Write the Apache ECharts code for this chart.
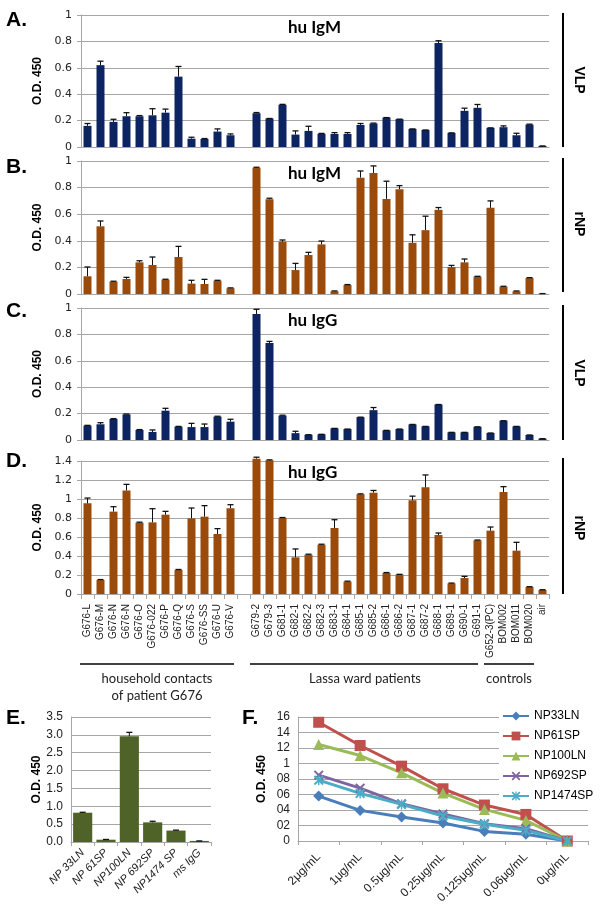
<!DOCTYPE html>
<html>
<head>
<meta charset="utf-8">
<script src="https://cdn.jsdelivr.net/npm/echarts@6/dist/echarts.min.js"></script>
<style>html,body{margin:0;padding:0;background:#fff}#c{width:600px;height:920px}</style>
</head>
<body>
<div id="c"></div>
<script>
// ---------- DATA ----------
const cats = ['G676-L','G676-M','G676-N','G676-N','G676-O','G676-022','G676-P','G676-Q','G676-S','G676-SS','G676-U','G676-V','',
  'G679-2','G679-3','G681-1','G682-1','G682-2','G682-3','G683-1','G684-1','G685-1','G685-2','G686-1','G686-2','G687-1','G687-2','G688-1','G689-1','G690-1','G691-1',
  'G652-3(PC)','BOM002','BOM011','BOM020','air'];

const igmVlp = [0.16,0.62,0.19,0.233,0.233,0.24,0.26,0.533,0.063,0.061,0.117,0.089,null,
  0.256,0.216,0.32,0.094,0.122,0.10,0.099,0.099,0.167,0.178,0.223,0.211,0.137,0.129,0.787,0.107,0.274,0.297,0.145,0.15,0.089,0.17,0.008];
const igmVlpErr = [0.018,0.03,0.02,0.027,0.005,0.05,0.027,0.077,0.011,0.003,0.02,0.01,null,
  0.005,0,0.003,0.028,0.035,0.003,0.01,0.01,0.011,0.003,0,0,0,0,0.018,0,0.02,0.025,0,0.01,0.015,0.003,0];

const igmNp = [0.133,0.509,0.093,0.113,0.238,0.218,0.108,0.278,0.078,0.075,0.1,0.043,null,
  0.95,0.712,0.393,0.18,0.293,0.373,0.02,0.068,0.875,0.91,0.715,0.788,0.385,0.48,0.633,0.203,0.238,0.13,0.648,0.055,0.02,0.12,0.003];
const igmNpErr = [0.07,0.04,0.003,0.012,0.012,0.06,0.003,0.08,0.025,0.035,0.003,0.003,null,
  0.003,0.008,0.013,0.05,0.02,0.025,0.003,0.003,0.05,0.053,0.133,0.027,0.06,0.105,0.017,0.012,0.025,0.003,0.052,0.003,0.003,0.003,0];

const iggVlp = [0.109,0.119,0.159,0.194,0.076,0.061,0.222,0.101,0.098,0.098,0.177,0.139,null,
  0.955,0.735,0.185,0.052,0.04,0.043,0.088,0.083,0.173,0.226,0.073,0.083,0.118,0.103,0.269,0.058,0.058,0.1,0.053,0.146,0.103,0.038,0.01];
const iggVlpErr = [0.002,0.012,0.003,0.003,0.003,0.015,0.018,0.002,0.028,0.023,0.003,0.018,null,
  0.035,0.012,0.003,0.014,0,0,0,0,0,0.02,0,0,0,0,0,0,0,0,0,0,0,0,0];

const iggNp = [0.954,0.147,0.867,1.09,0.751,0.754,0.835,0.253,0.796,0.814,0.632,0.902,null,
  1.425,1.407,0.8,0.386,0.414,0.519,0.695,0.13,1.049,1.067,0.221,0.204,0.986,1.123,0.621,0.112,0.168,0.565,0.667,1.074,0.456,0.074,0.042];
const iggNpErr = [0.056,0.005,0.052,0.064,0.005,0.144,0.035,0.005,0.109,0.116,0.056,0.038,null,
  0.015,0.005,0.005,0.088,0.005,0.005,0.087,0.005,0.005,0.023,0.005,0.003,0.044,0.13,0.021,0.003,0.018,0.003,0.038,0.056,0.088,0.003,0.003];

const eCats = ['NP 33LN','NP 61SP','NP100LN','NP 692SP','NP1474 SP','ms IgG'];
const eVals = [0.82,0.065,2.96,0.55,0.32,0.03];
const eErr  = [0.012,0.006,0.11,0.03,0.012,0];

const fCats = ['2μg/mL','1μg/mL','0.5μg/mL','0.25μg/mL','0.125μg/mL','0.06μg/mL','0μg/mL'];
const fNames = ['NP33LN','NP61SP','NP100LN','NP692SP','NP1474SP'];
const np33LN   = [0.58,0.395,0.31,0.232,0.124,0.086,0];
const np61SP   = [1.532,1.232,0.966,0.674,0.464,0.343,0];
const np100LN  = [1.245,1.103,0.88,0.618,0.408,0.266,0];
const np692SP  = [0.85,0.682,0.48,0.348,0.223,0.159,0];
const np1474SP = [0.785,0.614,0.472,0.322,0.215,0.137,0];

// ---------- STYLE ----------
const NAVY = '#0c2461', BROWN = '#9a4a0a', OLIVE = '#4f6228', GRID = '#a6a6a6';
const SANS = "'DejaVu Sans', sans-serif";
const ARIAL = "'Liberation Sans', Arial, sans-serif";
const NARROW = "'Liberation Sans Narrow', 'Arial Narrow', 'Liberation Sans', sans-serif";
const CAL = "Lato, 'Open Sans', sans-serif";

function errData(vals, errs){
  const out = [];
  vals.forEach((v,i)=>{ if(v!=null) out.push([i, v, errs[i]]); });
  return out;
}
function errRender(params, api){
  const x = api.value(0), v = api.value(1), e = api.value(2);
  const p0 = api.coord([x, v]), p1 = api.coord([x, v + e]);
  return {type:'group', children:[
    {type:'line', shape:{x1:p0[0],y1:p0[1],x2:p1[0],y2:p1[1]}, style:{stroke:'#111',lineWidth:1}},
    {type:'line', shape:{x1:p1[0]-3,y1:p1[1],x2:p1[0]+3,y2:p1[1]}, style:{stroke:'#111',lineWidth:1.3}}
  ]};
}

const grids = [
  {left:81, top:15,  width:468, height:132},
  {left:81, top:161, width:468, height:133},
  {left:81, top:308, width:468, height:132},
  {left:81, top:461, width:468, height:133},
  {left:71, top:717, width:140, height:125},
  {left:298, top:717, width:290, height:124}
];

const xAxes = [0,1,2,3].map(i=>({
  type:'category', gridIndex:i, data:cats, boundaryGap:true,
  axisLine:{show:true, lineStyle:{color:GRID}},
  axisTick:{show:i===3, interval:0, length:5, lineStyle:{color:GRID}},
  axisLabel:{show:i===3, interval:0, rotate:90, fontSize:10, fontFamily:ARIAL, color:'#222', margin:10}
}));
xAxes.push({
  type:'category', gridIndex:4, data:eCats,
  axisLine:{lineStyle:{color:GRID}}, axisTick:{show:true, length:4, lineStyle:{color:GRID}},
  axisLabel:{interval:0, rotate:45, fontSize:11, fontStyle:'italic', fontFamily:NARROW, color:'#222', margin:9}
});
xAxes.push({
  type:'category', gridIndex:5, data:fCats,
  axisLine:{lineStyle:{color:GRID}}, axisTick:{show:true, length:4, lineStyle:{color:GRID}},
  axisLabel:{interval:0, rotate:45, fontSize:12, fontFamily:NARROW, color:'#222', margin:14}
});

function yAx(i, max, interval){
  return {
    type:'value', gridIndex:i, min:0, max:max, interval:interval,
    name:'O.D. 450', nameLocation:'middle', nameGap:32,
    nameTextStyle:{fontSize:12, fontWeight:'bold', fontFamily:ARIAL, color:'#000'},
    axisLine:{show:true, lineStyle:{color:GRID}},
    axisTick:{show:true, length:4, lineStyle:{color:GRID}},
    axisLabel:{fontSize:11, fontFamily:SANS, color:'#222', margin:9},
    splitLine:{lineStyle:{color:GRID, width:1}}
  };
}
const yAxes = [yAx(0,1,0.2), yAx(1,1,0.2), yAx(2,1,0.2), yAx(3,1.4,0.2)];
const yE = yAx(4,3.5,0.5);
yE.nameGap = 28; yE.axisTick = {show:false};
yE.axisLabel = {fontSize:12, fontFamily:NARROW, color:'#222', margin:8, formatter:v=>v.toFixed(1)};
yAxes.push(yE);
const yF = yAx(5,1.6,0.2);
yF.nameGap = 30; yF.axisTick = {show:false};
yF.axisLabel = {fontSize:12, fontFamily:NARROW, color:'#222', margin:8,
  formatter:v=> v===0 ? '0' : String(+v.toFixed(1)).replace('.','')};
yAxes.push(yF);

const barSets = [[igmVlp,igmVlpErr,NAVY],[igmNp,igmNpErr,BROWN],[iggVlp,iggVlpErr,NAVY],[iggNp,iggNpErr,BROWN]];
const series = [];
barSets.forEach((s,i)=>{
  series.push({type:'bar', xAxisIndex:i, yAxisIndex:i, data:s[0], barWidth:8, clip:false,
    itemStyle:{color:s[2]}, silent:true, animation:false});
  series.push({type:'custom', xAxisIndex:i, yAxisIndex:i, data:errData(s[0],s[1]),
    renderItem:errRender, encode:{x:0,y:1}, z:5, silent:true, animation:false});
});
series.push({type:'bar', xAxisIndex:4, yAxisIndex:4, data:eVals, barCategoryGap:'18%',
  itemStyle:{color:OLIVE}, animation:false});
series.push({type:'custom', xAxisIndex:4, yAxisIndex:4, data:errData(eVals,eErr),
  renderItem:errRender, encode:{x:0,y:1}, z:5, animation:false});

const fData = [np33LN, np61SP, np100LN, np692SP, np1474SP];
const fColors = ['#4a7ebb','#c0504d','#9bbb59','#8064a2','#4bacc6'];
const xPath = 'path://M0,1.4 L1.4,0 L5,3.6 L8.6,0 L10,1.4 L6.4,5 L10,8.6 L8.6,10 L5,6.4 L1.4,10 L0,8.6 L3.6,5 Z';
const starPath = 'path://M0,1.4 L1.4,0 L5,3.6 L8.6,0 L10,1.4 L6.4,5 L10,8.6 L8.6,10 L5,6.4 L1.4,10 L0,8.6 L3.6,5 Z M4.3,0 L5.7,0 L5.7,10 L4.3,10 Z';
const fSymbols = ['diamond','rect','triangle', xPath, starPath];
const fSizes = [11, 11, 11, 10, 10];
fData.forEach((d,i)=>{
  series.push({type:'line', name:fNames[i], xAxisIndex:5, yAxisIndex:5, data:d,
    symbol:fSymbols[i], symbolSize:fSizes[i], showSymbol:true,
    lineStyle:{width:3, color:fColors[i]}, itemStyle:{color:fColors[i]}, animation:false});
});

// ---------- ANNOTATIONS ----------
const g = [];
function txt(t, x, y, size, opts){
  opts = opts || {};
  g.push({type:'text', x:x, y:y, rotation:opts.rot||0, z:100,
    style:{text:t, fontSize:size, fontWeight:opts.bold?'bold':'normal', fontFamily:opts.font||ARIAL,
      fill:opts.color||'#000', align:opts.align||'left', verticalAlign:'middle'}});
}
function ln(x1,y1,x2,y2,w){
  g.push({type:'line', z:100, shape:{x1:x1,y1:y1,x2:x2,y2:y2}, style:{stroke:'#000', lineWidth:w||1.5}});
}
txt('A.', 6, 20, 21, {bold:true});
txt('B.', 6, 167, 21, {bold:true});
txt('C.', 6, 311, 21, {bold:true});
txt('D.', 6, 461, 21, {bold:true});
txt('E.', 6, 718, 21, {bold:true});
txt('F.', 242, 718, 21, {bold:true});

txt('hu IgM', 288, 28, 17, {bold:true, font:CAL});
txt('hu IgM', 288, 174, 17, {bold:true, font:CAL});
txt('hu IgG', 288, 321, 17, {bold:true, font:CAL});
txt('hu IgG', 288, 473, 17, {bold:true, font:CAL});

// right-side antigen labels
ln(563,13,563,147,2); txt('VLP', 579, 80, 14, {bold:true, rot:-Math.PI/2, align:'center'});
ln(563,158,563,292,2); txt('rNP', 579, 224, 14, {bold:true, rot:-Math.PI/2, align:'center'});
ln(563,305,563,440,2); txt('VLP', 579, 373, 14, {bold:true, rot:-Math.PI/2, align:'center'});
ln(563,458,563,594,2); txt('rNP', 579, 528, 14, {bold:true, rot:-Math.PI/2, align:'center'});

// group brackets
ln(80,664,234,664,1.5); ln(250,664,478,664,1.5); ln(484,664,534,664,1.5);
txt('household contacts', 157, 679, 13, {font:CAL, align:'center', color:'#222'});
txt('of patient G676', 157, 696, 13, {font:CAL, align:'center', color:'#222'});
txt('Lassa ward patients', 365, 679, 13, {font:CAL, align:'center', color:'#222'});
txt('controls', 509, 679, 13, {font:CAL, align:'center', color:'#222'});

const chart = echarts.init(document.getElementById('c'), null, {renderer:'canvas'});
chart.setOption({
  animation:false,
  grid: grids,
  xAxis: xAxes,
  yAxis: yAxes,
  legend: {data:fNames, orient:'vertical', left:499, top:705, itemWidth:26, itemHeight:11, itemGap:6,
    padding:[4,4,4,3], backgroundColor:'#fff', textStyle:{fontSize:12, fontFamily:NARROW, color:'#000', lineHeight:14}},
  series: series,
  graphic: g
});
</script>
</body>
</html>
